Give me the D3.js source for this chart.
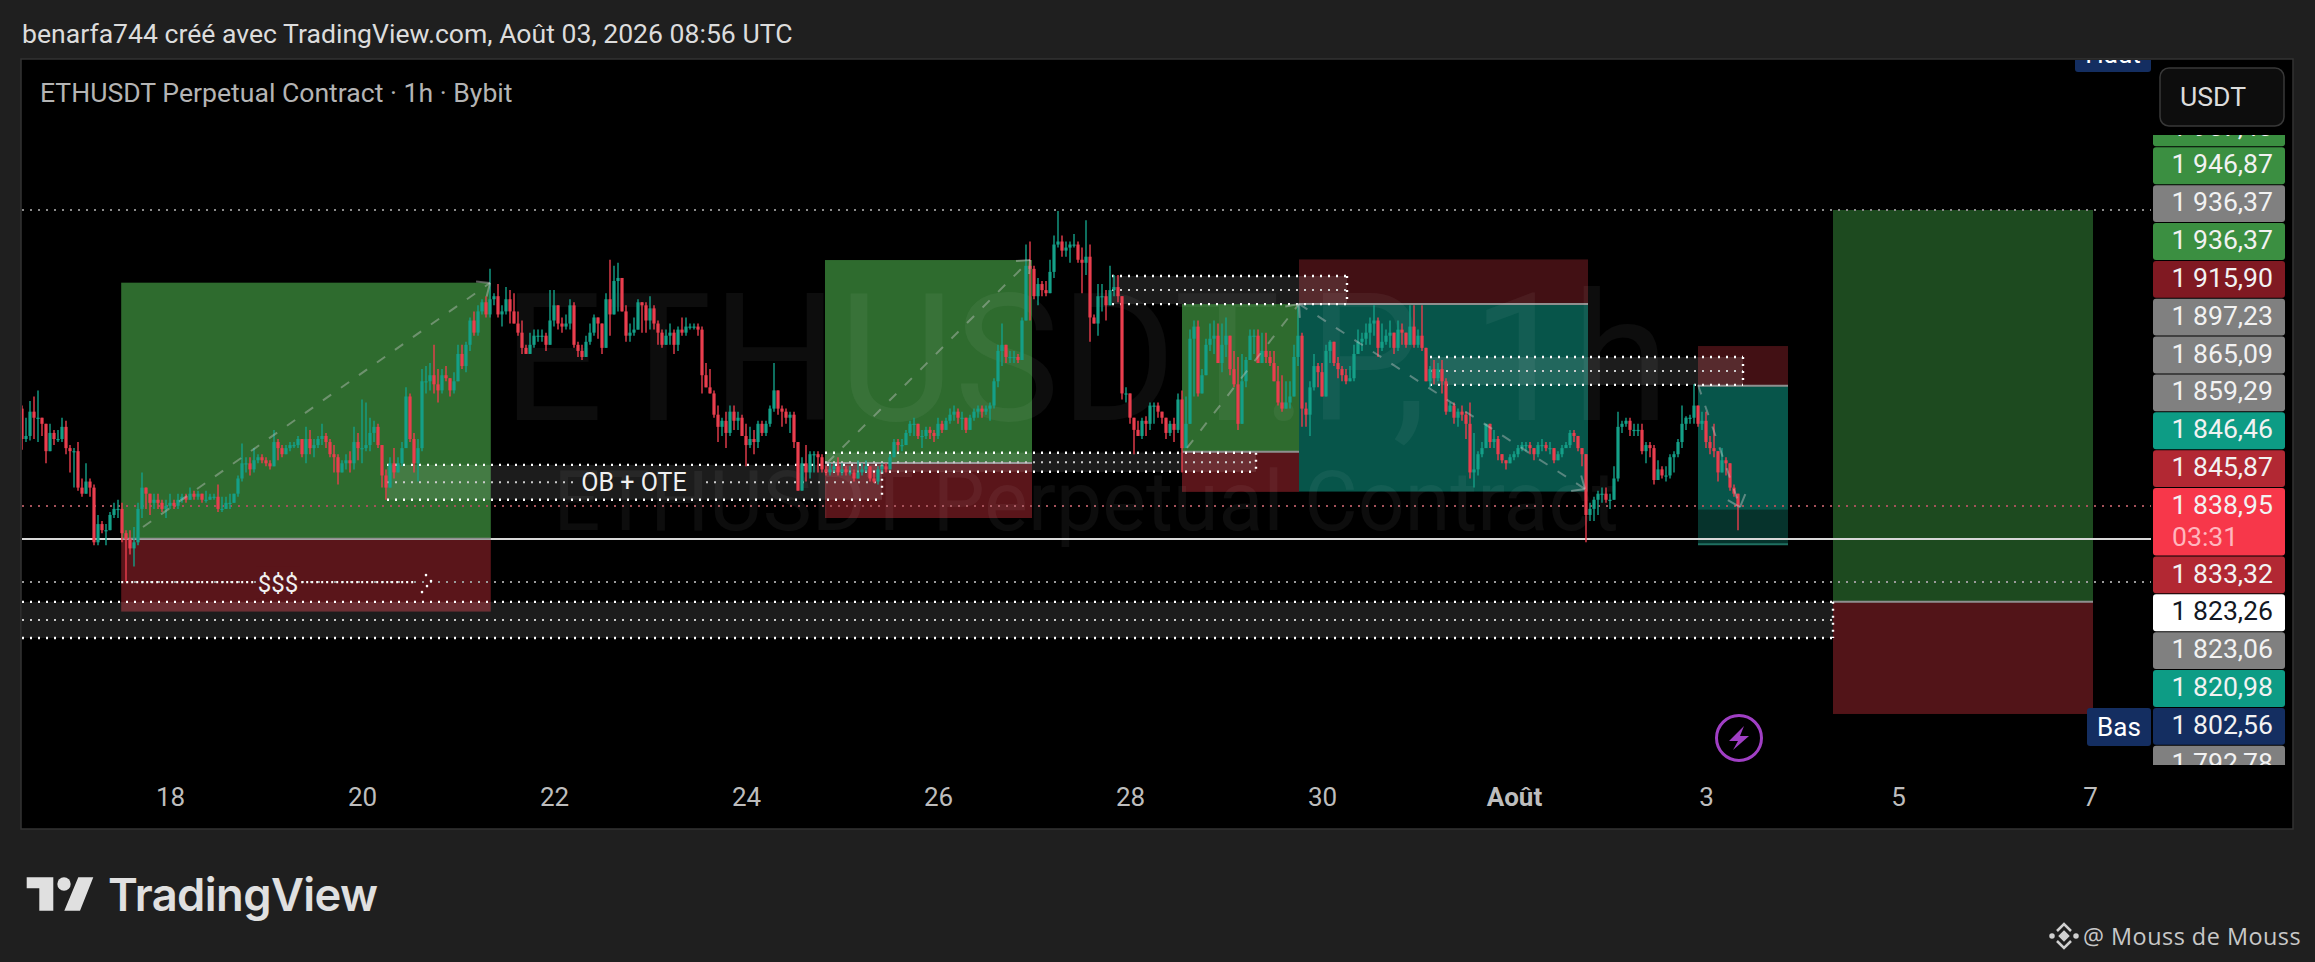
<!DOCTYPE html>
<html><head><meta charset="utf-8">
<style>html,body{margin:0;padding:0;background:#1f1f1f;overflow:hidden}svg{display:block}text{font-family:Roboto,sans-serif}</style>
<script src="https://cdnjs.cloudflare.com/ajax/libs/d3/7.8.5/d3.min.js"></script>
</head><body><svg id="c" width="2315" height="962"></svg>
<script>
const firstOpen = 1871;
const closes = [
1861,1862,1870,1868,1868,1866,1857,1863,1861,1861,
1865,1858,1857,1857,1845,1843,1847,1845,1827,1833,
1831,1831,1836,1838,1838,1830,1828,1825,1827,1838,
1845,1843,1840,1841,1840,1838,1839,1840,1839,1841,
1842,1841,1843,1842,1843,1841,1841,1842,1842,1838,
1838,1840,1840,1843,1848,1853,1853,1851,1854,1855,
1854,1853,1852,1860,1858,1856,1858,1859,1859,1861,
1856,1861,1858,1859,1861,1862,1860,1856,1855,1850,
1853,1854,1853,1860,1858,1858,1859,1863,1865,1859,
1849,1845,1853,1850,1853,1858,1875,1861,1853,1858,
1880,1880,1882,1879,1877,1882,1881,1877,1880,1889,
1885,1892,1900,1896,1903,1906,1902,1907,1908,1902,
1903,1907,1903,1899,1896,1891,1889,1892,1895,1895,
1895,1892,1900,1905,1899,1898,1899,1905,1892,1890,
1888,1893,1896,1901,1899,1891,1907,1902,1913,1914,
1903,1895,1896,1897,1906,1905,1900,1904,1899,1896,
1892,1895,1896,1892,1897,1896,1898,1898,1898,1897,
1882,1878,1876,1869,1865,1867,1863,1870,1867,1868,
1862,1859,1861,1860,1866,1863,1866,1871,1877,1871,
1870,1868,1869,1860,1844,1853,1850,1856,1856,1855,
1851,1850,1851,1852,1850,1851,1850,1850,1848,1850,
1851,1852,1848,1847,1851,1852,1851,1855,1860,1859,
1859,1863,1866,1866,1862,1862,1864,1863,1862,1866,
1864,1867,1869,1870,1868,1868,1864,1868,1870,1871,
1870,1871,1872,1880,1890,1892,1888,1888,1888,1887,
1900,1918,1917,1908,1912,1910,1909,1916,1925,1926,
1923,1924,1925,1925,1920,1919,1921,1901,1899,1908,
1908,1905,1910,1911,1908,1876,1876,1868,1864,1862,
1867,1866,1872,1872,1870,1868,1863,1866,1864,1874,
1858,1866,1894,1898,1876,1882,1892,1894,1895,1886,
1892,1895,1884,1879,1866,1880,1887,1895,1895,1886,
1890,1888,1886,1880,1873,1871,1873,1875,1888,1895,
1871,1869,1878,1885,1883,1875,1890,1893,1886,1884,
1882,1880,1881,1889,1893,1894,1896,1899,1900,1891,
1893,1895,1896,1891,1897,1896,1892,1898,1892,1895,
1891,1880,1884,1881,1884,1880,1870,1872,1868,1870,
1869,1866,1850,1851,1856,1858,1866,1860,1861,1856,
1854,1853,1855,1856,1858,1859,1859,1858,1856,1859,
1859,1858,1858,1854,1856,1858,1859,1863,1862,1858,
1856,1836,1838,1841,1843,1843,1841,1841,1848,1865,
1866,1867,1864,1864,1864,1857,1859,1858,1847.5,1851,
1849,1849,1855,1856,1860,1866,1868,1868,1872,1866,
1867,1860,1858,1857,1850,1854,1853,1845,1843,1838.95];
const highs = [
1872,1868,1873.5,1875,1877,1868,1866,1866,1864,1864,
1868,1867,1859,1858,1860,1848,1853,1848,1846,1836,
1834,1833,1837,1840,1841,1840,1831,1831,1832,1840,
1850,1845,1843,1843,1843,1841,1841,1843,1841,1843,
1843,1843,1845,1844,1844,1843,1844,1843,1843,1846,
1842,1842,1843,1843,1849,1859.5,1855,1855,1858,1856,
1856,1855,1854,1864,1861,1859,1859,1860,1860,1862,
1861,1865,1864,1861,1862,1866,1863,1861,1859,1856,
1854,1856,1857,1865,1863,1874,1873,1868,1867,1866,
1859,1851,1855,1858,1855,1860,1878,1876,1863,1861,
1884,1885,1886,1892,1884,1884,1885,1881,1883,1892,
1892,1893,1901,1903,1905,1907,1908,1917,1909,1912,
1905,1911,1910,1909,1903,1900,1892,1896,1897,1897,
1897,1896,1910,1910,1905,1901,1902,1907,1906,1893,
1892,1895,1899,1902,1901,1899,1909,1920,1918,1919,
1914,1905,1899,1901,1907,1906,1906,1908,1905,1900,
1897,1897,1899,1897,1898,1901,1901,1899,1899,1899,
1898,1886,1884,1877,1872,1868,1870,1872,1872,1870,
1869,1866,1865,1864,1867,1867,1867,1872,1886,1877,
1872,1871,1870,1870,1857,1855,1859,1857,1857,1857,
1856,1852,1853,1853,1855,1853,1852,1852,1851,1854,
1853,1854,1852,1850,1852,1853,1853,1856,1861,1861,
1861,1864,1867,1868,1866,1864,1865,1865,1864,1868,
1867,1868,1871,1872,1871,1870,1868,1869,1871,1872,
1872,1872,1873,1881,1892,1899,1892,1890,1890,1889,
1901,1925,1926,1918,1914,1913,1913,1920,1928,1936,
1928,1926,1926,1928.5,1926,1924,1933,1925,1902,1912,
1912,1910,1918,1915,1915,1908,1878,1876,1868,1867,
1868,1868.5,1873,1873,1873,1870,1868,1867,1868,1876,
1877,1875,1897,1900,1900,1884,1894,1899,1900,1899,
1899,1901,1893,1890,1888,1889,1888,1897,1897,1897,
1896,1896,1890,1890,1885,1882,1880,1880,1892,1905,
1896,1873,1880,1889,1886,1886,1892,1893.5,1893,1888,
1885,1884,1885,1892,1897,1896,1899,1901,1905,1901,
1899,1897,1900,1896,1900,1899,1896,1905,1905,1897,
1905,1891,1885,1887,1886,1887,1881,1873,1873,1871,
1872,1870,1873,1863,1857,1860,1866,1866,1864,1862,
1856,1854,1856,1857,1859,1860,1860,1860,1858,1860,
1861,1860,1860,1858,1857,1859,1860,1864,1864,1862,
1858,1855,1840,1842,1844,1845,1845,1843,1852,1870,
1867,1868,1868,1866,1866,1866,1860,1860,1859,1854,
1852,1852,1856,1857,1861,1872,1868.5,1869,1879,1872,
1870,1870,1862,1866,1857,1858,1855,1853,1846,1843];
const lows = [
1857.5,1860,1860.5,1861,1860,1862,1853,1858,1859,1860,
1860,1856,1850,1845,1844,1842,1843,1842,1826,1826,
1830,1826,1831,1835,1835,1827,1814,1823,1819,1826,
1835,1838,1836,1838,1838,1837,1835,1838,1838,1838,
1840,1840,1841,1841,1841,1840,1840,1841,1841,1837,
1837,1838,1838,1840,1842,1847,1850,1849,1850,1853,
1853,1852,1851,1852,1854,1855,1856,1857,1858,1858,
1855,1853,1856,1855,1858,1859,1858,1855,1850,1846,
1850,1851,1850,1851,1854,1853,1857,1857,1860,1858,
1845,1841,1847,1848,1850,1852,1859,1860,1850,1847,
1857,1876,1877,1876,1873,1876,1880,1875,1876,1880,
1884,1883,1890,1895,1895,1902,1901,1901,1905,1901,
1898,1902,1899,1899,1895,1889,1889,1889,1891,1893,
1893,1890,1892,1898,1897,1896,1897,1897,1891,1888,
1887,1888,1892,1895,1894,1889,1891,1895,1902,1903,
1903,1893,1893,1895,1897,1896,1896,1897,1897,1892,
1891,1892,1892,1889,1890,1895,1895,1897,1897,1895,
1876,1878,1876,1868,1860,1862,1858,1862,1864,1864,
1862,1852,1858,1856,1858,1862,1862,1865,1870,1869,
1865,1866,1863,1858,1844,1844,1847,1848,1850,1850,
1850,1849,1849,1850,1849,1849,1849,1849,1847,1848,
1849,1850,1847,1846.5,1846,1850,1850,1851,1855,1857,
1857,1859,1862,1862,1861,1858,1861,1861,1860,1861,
1863,1864,1866,1867,1866,1864,1863,1864,1867,1868,
1868,1869,1867,1871,1878,1885,1886,1886,1886,1886,
1888,1900,1900,1907,1905,1908,1908,1910,1914,1924,
1921,1921,1919,1924,1919,1909,1915,1893,1899,1895,
1903,1900,1905,1908,1906,1874,1873,1866,1856,1862,
1861,1862,1864,1866,1868,1866,1861,1862,1860,1863,
1850,1858,1869,1875,1875,1876,1885,1890,1889,1886,
1883,1888,1882,1878,1864,1869,1878,1887,1889,1886,
1886,1886,1885,1880,1872,1870,1871,1871,1875,1885,
1865,1865,1862,1877,1878,1876,1876,1886,1885,1881,
1880,1879,1880,1880,1889,1890,1892,1892,1895,1888,
1890,1892,1891,1889,1890,1892,1891,1892,1891,1891,
1890,1880,1878,1879,1880,1876,1869,1870,1866,1865,
1867,1861,1848,1845,1849,1855,1858,1858,1858,1854,
1853,1851,1853,1854,1855,1857,1857,1856,1854,1855,
1857,1857,1856,1853,1854,1855,1858,1858,1860,1857,
1852,1827,1834,1834,1836,1840,1840,1838,1841,1847,
1863,1865,1862,1862,1862,1856,1853,1855,1846,1848,
1848,1847,1848,1850,1855,1858,1864,1866,1866,1865,
1864,1858,1856,1855,1847,1850,1849,1844,1842,1831];

const dayHours = [37,85,133,181,229,277,325,373,421,469,517];
const dayLabels = ['18','20','22','24','26','28','30','Août','3','5','7'];

// Position tools: [startHour, endHour, top, entry, bottom]
const longBoxes = [
  [24.8,117.2,1912.45,1828.2,1804.2],
  [200.75,252.5,1919.9,1853.1,1835],
  [290,319.25,1905.4,1856.8,1843.6]];
const shortBoxes = [
  [319.25,391.5,1920.1,1905.4,1843.7],
  [419,441.5,1891.6,1878.5,1826.4]];
const futureBox = [452.75,517.75,1936.37,1807.4,1770.5];
// Dotted ranges: [startHour, endHour, top, bottom]
const ranges = [
  [91.25,215,1852.5,1841],
  [200.75,308.5,1856.5,1850.2],
  [272.5,331.25,1914.65,1905.4],
  [352,430.25,1888,1878.8],
  [0,452.75,1807.4,1795.5]];
// Dashed arrows: [h0,p0,h1,p1]
const arrows = [
  [30.25,1832.05,117,1912.35],
  [201.25,1853.1,252,1919.9],
  [291.25,1858.05,319.25,1905.45],
  [319.25,1905.45,390.75,1844.55],
  [419,1878.8,429.5,1838.6]];
const lastPrice = 1838.95, highLine = 1936.37, entryLine = 1828.1, liqLine = 1813.9;

const priceLabels = ['1 957,40','1 946,87','1 936,37','1 936,37','1 915,90','1 897,23','1 865,09','1 859,29','1 846,46','1 845,87','1 838,95','1 833,32','1 823,26','1 823,06','1 820,98','1 802,56','1 792,78'];
const priceKinds  = ['green','green','grey','green','maroon','grey','grey','grey','teal','red','last','red','white','grey','teal','navy','grey'];
const countdown = '03:31';
const kindFill = {green:'#3b8f41',grey:'#808080',maroon:'#801922',teal:'#0d9c85',red:'#b22833',last:'#f7374a',white:'#ffffff',navy:'#142e61'};

const svg = d3.select('#c');
const W=2315,H=962, L=22,R=2292,T=60,B=828, plotR=2151;
const x = d3.scaleLinear().domain([0,1]).range([22,26]);
const y = d3.scaleLinear().domain([1936.37,1838.95]).range([210,506]);
const UP='#14a088', DOWN='#ea3e4e';
const FS=26.6;

svg.append('rect').attr('width',W).attr('height',H).attr('fill','#1f1f1f');
svg.append('rect').attr('x',L-1).attr('y',T-1).attr('width',R-L+2).attr('height',B-T+2).attr('fill','#000').attr('stroke','#333').attr('stroke-width',1.5);

const defs = svg.append('defs');
defs.append('clipPath').attr('id','plot').append('rect').attr('x',L).attr('y',T).attr('width',plotR-L).attr('height',B-T);
defs.append('clipPath').attr('id','scale').append('rect').attr('x',2153).attr('y',135).attr('width',132).attr('height',630);
const g = svg.append('g').attr('clip-path','url(#plot)');

function box(x0,x1,p0,p1,fill){ g.append('rect').attr('x',x(x0)).attr('width',x(x1)-x(x0)).attr('y',y(p0)).attr('height',y(p1)-y(p0)).attr('fill',fill); }
longBoxes.forEach(b=>{ box(b[0],b[1],b[2],b[3],'#2e6b2e'); box(b[0],b[1],b[3],b[4],'#5a151a'); });
shortBoxes.forEach(b=>{ box(b[0],b[1],b[2],b[3],'#421014'); box(b[0],b[1],b[3],b[4],'#07554a'); });
{ const s=shortBoxes[1]; box(s[0],s[1],lastPrice-1.2,s[4],'#06332c');
  g.append('line').attr('x1',x(s[0])).attr('x2',x(s[1])).attr('y1',y(s[4])).attr('y2',y(s[4])).attr('stroke','#1f6f60').attr('stroke-width',2); }
box(futureBox[0],futureBox[1],futureBox[2],futureBox[3],'#1d4a1f');
box(futureBox[0],futureBox[1],futureBox[3],futureBox[4],'#521418');

// horizontal lines
function hline(p,color,dash,w,x0,x1){ const l=g.append('line').attr('x1',x0===undefined?L:x(x0)).attr('x2',x1===undefined?plotR:x(x1)).attr('y1',y(p)).attr('y2',y(p)).attr('stroke',color).attr('stroke-width',w||2); if(dash) l.attr('stroke-dasharray',dash); return l;}
hline(highLine,'#8a8a8a','2 6');
hline(lastPrice,'#a5525a','2 6');
hline(liqLine,'#9a9a9a','2 6');
hline(entryLine,'#d8d8d8',null,2);
[...longBoxes,...shortBoxes,futureBox].forEach(b=>hline(b[3],'#8f8f8f',null,2,b[0],b[1]));

// ranges
ranges.forEach((r,i)=>{
  g.append('rect').attr('x',x(r[0])).attr('width',x(r[1])-x(r[0])).attr('y',y(r[2])).attr('height',y(r[3])-y(r[2])).attr('fill','#fff').attr('fill-opacity',0.11);
  const mid=(r[2]+r[3])/2;
  hline(r[2],'#fff','2 6',2.4,r[0],r[1]);
  hline(r[3],'#fff','2 6',2.4,r[0],r[1]);
  if(i===0){ hline(mid,'#ccc','2 6',2,r[0],138); hline(mid,'#ccc','2 6',2,171,r[1]); }
  else hline(mid,'#ccc','2 6',2,r[0],r[1]);
  g.append('line').attr('x1',x(r[1])).attr('x2',x(r[1])).attr('y1',y(r[2])).attr('y2',y(r[3])).attr('stroke','#fff').attr('stroke-width',2.4).attr('stroke-dasharray','2 5');
});

// watermark
g.append('text').attr('x',1086).attr('y',420).attr('text-anchor','middle').attr('font-size',178).attr('fill','#fff').attr('fill-opacity',0.05).text('ETHUSDT.P, 1h');
g.append('text').attr('x',1086).attr('y',530).attr('text-anchor','middle').attr('font-size',82.5).attr('fill','#fff').attr('fill-opacity',0.05).text('ETHUSDT Perpetual Contract');

// candles
const candles = closes.map((c,i)=>{ const o=i?closes[i-1]:firstOpen; return {i,o,c,h:Math.max(highs[i],o,c),l:Math.min(lows[i],o,c)}; });
const cg = g.append('g');
cg.selectAll('line').data(candles).join('line')
  .attr('x1',d=>x(d.i)).attr('x2',d=>x(d.i)).attr('y1',d=>y(d.h)).attr('y2',d=>y(d.l))
  .attr('stroke',d=>d.c>=d.o?UP:DOWN).attr('stroke-width',1.4);
cg.selectAll('rect').data(candles).join('rect')
  .attr('x',d=>x(d.i)-1.6).attr('width',3.2)
  .attr('y',d=>y(Math.max(d.o,d.c))).attr('height',d=>Math.max(1.2,Math.abs(y(d.o)-y(d.c))))
  .attr('fill',d=>d.c>=d.o?UP:DOWN);

// dashed arrows
arrows.forEach(a=>{
  const X0=x(a[0]),Y0=y(a[1]),X1=x(a[2]),Y1=y(a[3]);
  g.append('line').attr('x1',X0).attr('y1',Y0).attr('x2',X1).attr('y2',Y1).attr('stroke','#c8c8c8').attr('stroke-opacity',0.42).attr('stroke-width',2).attr('stroke-dasharray','10 12');
  const t=Math.atan2(Y1-Y0,X1-X0);
  [0.45,-0.45].forEach(da=>g.append('line').attr('x1',X1).attr('y1',Y1).attr('x2',X1-14*Math.cos(t+da*1.6)).attr('y2',Y1-14*Math.sin(t+da*1.6)).attr('stroke','#c8c8c8').attr('stroke-opacity',0.45).attr('stroke-width',2));
});

// $$$ liquidity line
hline(liqLine,'#fff','2 3',2.2,24.8,98);
g.append('rect').attr('x',256).attr('y',y(liqLine)-16).attr('width',44).attr('height',32).attr('fill','#5a151a');
g.append('text').attr('x',278).attr('y',y(liqLine)+10).attr('text-anchor','middle').attr('font-size',24).attr('fill','#f0f0f0').text('$$$');
[[0,-7],[5,-1],[1,4],[-4,10]].forEach(o=>g.append('circle').attr('cx',x(101)+o[0]).attr('cy',y(liqLine)+o[1]).attr('r',1.3).attr('fill','#fff'));
g.append('text').attr('x',634).attr('y',y(1846.75)+9).attr('text-anchor','middle').attr('font-size',25).attr('fill','#f0f0f0').text('OB + OTE');

// time axis
const axis = d3.axisBottom(x).tickValues(dayHours).tickSize(0).tickPadding(0).tickFormat((d,i)=>dayLabels[i]);
const ax = svg.append('g').attr('transform','translate(0,788)').call(axis);
ax.select('.domain').remove();
ax.selectAll('text').attr('font-family','Roboto').attr('font-size',26).attr('fill','#bdbdbd').attr('dy','0.71em')
  .attr('font-weight',(d,i)=>dayLabels[i]==='Août'?700:400);

// header texts
svg.append('text').attr('x',22).attr('y',43).attr('font-size',FS).attr('fill','#dcdcdc').text('benarfa744 créé avec TradingView.com, Août 03, 2026 08:56 UTC');
svg.append('text').attr('x',40).attr('y',102).attr('font-size',FS).attr('fill','#b4b4b4').text('ETHUSDT Perpetual Contract · 1h · Bybit');

// USDT
svg.append('rect').attr('x',2160).attr('y',68).attr('width',124).attr('height',58).attr('rx',9).attr('fill','#0d0d0d').attr('stroke','#383838').attr('stroke-width',1.5);
svg.append('text').attr('x',2180).attr('y',106).attr('font-size',FS).attr('fill','#dcdcdc').text('USDT');

// Haut / Bas
const hb = svg.append('g').attr('clip-path','url(#plot)');
hb.append('rect').attr('x',2075).attr('y',34).attr('width',76).attr('height',38).attr('rx',3).attr('fill','#142e61');
hb.append('text').attr('x',2113).attr('y',63).attr('text-anchor','middle').attr('font-size',26).attr('fill','#fff').text('Haut');

// price labels
const pl = svg.append('g').attr('clip-path','url(#scale)');
let labelTop = 109; const rowH = 37.85;
priceLabels.forEach((t,i)=>{
  const kind=priceKinds[i], h=kind==='last'?68.5:rowH;
  pl.append('rect').attr('x',2153).attr('y',labelTop+0.5).attr('width',132).attr('height',h-1).attr('rx',3).attr('fill',kindFill[kind]);
  pl.append('text').attr('x',2273).attr('y',labelTop+26.5).attr('text-anchor','end').attr('font-size',FS).attr('fill',kind==='white'?'#131722':'#f2f2f2').text(t);
  if(kind==='last') pl.append('text').attr('x',2172).attr('y',labelTop+58).attr('font-size',FS).attr('fill','#ffb6bd').text(countdown);
  labelTop+=h;
});
svg.append('rect').attr('x',2087).attr('y',708).attr('width',64).attr('height',38).attr('rx',3).attr('fill','#142e61');
svg.append('text').attr('x',2119).attr('y',736).attr('text-anchor','middle').attr('font-size',26).attr('fill','#fff').text('Bas');

// lightning icon
svg.append('circle').attr('cx',1739).attr('cy',738).attr('r',22.5).attr('fill','none').attr('stroke','#a03fc4').attr('stroke-width',3);
svg.append('path').attr('d','M1744 726 L1729 741 L1738 741 L1733 750 L1749 736 L1740 736 Z').attr('fill','#a03fc4');

// TradingView logo
svg.append('path').attr('d','M26.7 877.3H53.3V910.7H39.3V888.3H26.7Z M78.3 877.3H93.3L80 910.7H64.3Z').attr('fill','#e0e0e0');
svg.append('circle').attr('cx',64).attr('cy',884).attr('r',6.7).attr('fill','#e0e0e0');
svg.append('text').attr('x',108).attr('y',911).attr('font-size',45.3).attr('font-weight',600).attr('letter-spacing',-0.6).style('font-family','Inter').attr('fill','#e0e0e0').text('TradingView');

// footer
svg.append('text').attr('x',2083).attr('y',945).attr('font-size',23.4).style('font-family','"Open Sans"').attr('letter-spacing',0.5).attr('fill','#c8c8c8').text('@ Mouss de Mouss');
const fi = svg.append('g').attr('fill','none').attr('stroke','#d0d0d0').attr('stroke-width',2.5);
fi.append('path').attr('d','M2057 931 L2064 924 L2071 931 M2057 941 L2064 948 L2071 941');
fi.append('path').attr('d','M2064 932 L2068 936 L2064 940 L2060 936 Z').attr('fill','#d0d0d0');
fi.append('circle').attr('cx',2052).attr('cy',936).attr('r',1.5).attr('fill','#d0d0d0');
fi.append('circle').attr('cx',2076).attr('cy',936).attr('r',1.5).attr('fill','#d0d0d0');
</script></body></html>
